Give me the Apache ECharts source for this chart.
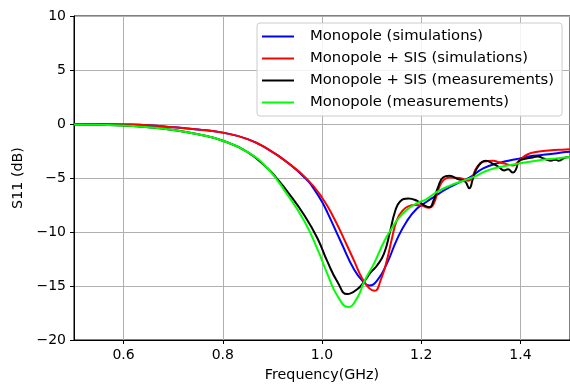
<!DOCTYPE html>
<html>
<head>
<meta charset="utf-8">
<script src="https://cdn.jsdelivr.net/npm/echarts@6/dist/echarts.min.js"></script>
<style>html,body{margin:0;padding:0;background:#fff;}#c{width:570px;height:387px;}</style>
</head>
<body>
<div id="c"></div>
<script>
const seriesNames = ['Monopole (simulations)', 'Monopole + SIS (simulations)', 'Monopole + SIS (measurements)', 'Monopole (measurements)'];
const xTicks = [0.6, 0.8, 1.0, 1.2, 1.4];
const yTicks = [-20, -15, -10, -5, 0, 5, 10];

const blueFreq = [0.5,0.55,0.6,0.65,0.7,0.75,0.8,0.85,0.89,0.93,0.97,0.985,1.0,1.011,1.038,1.065,1.085,1.095,1.111,1.131,1.151,1.171,1.191,1.211,1.231,1.251,1.275,1.298,1.325,1.357,1.391,1.425,1.457,1.491,1.5];
const blueS11 = [0,-0.01,-0.04,-0.12,-0.3,-0.5,-0.8,-1.4,-2.3,-3.55,-5.2,-6.1,-7.2,-8.2,-10.9,-13.5,-14.7,-14.95,-14.5,-12.9,-10.7,-9.0,-7.85,-7.2,-6.6,-6.0,-5.45,-4.95,-4.1,-3.6,-3.26,-2.95,-2.8,-2.6,-2.57];

const redFreq = [0.5,0.55,0.6,0.65,0.7,0.75,0.8,0.85,0.89,0.93,0.97,1.0,1.025,1.05,1.065,1.081,1.095,1.106,1.118,1.131,1.141,1.151,1.163,1.175,1.188,1.201,1.215,1.225,1.235,1.245,1.258,1.277,1.295,1.303,1.311,1.325,1.345,1.357,1.371,1.385,1.397,1.415,1.431,1.457,1.491,1.5];
const redS11 = [0,-0.01,-0.04,-0.12,-0.3,-0.5,-0.8,-1.4,-2.3,-3.55,-5.1,-6.8,-8.8,-11.2,-12.7,-14.3,-15.2,-15.45,-14.5,-12.6,-10.6,-8.9,-8.0,-7.6,-7.5,-7.55,-7.75,-7.4,-6.0,-5.2,-4.95,-5.0,-5.25,-4.9,-4.1,-3.5,-3.4,-3.55,-3.7,-3.85,-3.4,-2.8,-2.6,-2.45,-2.35,-2.33];

const blackFreq = [0.5,0.55,0.6,0.65,0.7,0.75,0.8,0.85,0.89,0.91,0.931,0.965,0.991,1.011,1.031,1.051,1.071,1.085,1.098,1.111,1.125,1.137,1.147,1.157,1.174,1.191,1.207,1.217,1.224,1.234,1.244,1.257,1.274,1.288,1.297,1.304,1.311,1.322,1.33,1.345,1.357,1.367,1.375,1.385,1.391,1.397,1.407,1.425,1.435,1.447,1.461,1.471,1.477,1.491,1.5];
const blackS11 = [-0.05,-0.08,-0.13,-0.3,-0.55,-0.95,-1.55,-2.6,-4.1,-5.1,-6.3,-8.5,-10.6,-12.75,-14.6,-15.75,-15.3,-14.6,-13.75,-13.1,-12.0,-10.0,-8.15,-7.2,-6.9,-7.1,-7.55,-7.7,-7.2,-5.85,-4.95,-4.8,-5.1,-5.3,-5.95,-5.1,-4.2,-3.55,-3.4,-3.7,-4.0,-4.3,-4.2,-4.5,-4.2,-3.45,-3.25,-3.1,-3.0,-3.2,-3.4,-3.3,-3.4,-3.1,-3.05];

const greenFreq = [0.5,0.55,0.6,0.65,0.7,0.75,0.8,0.85,0.89,0.931,0.965,0.991,1.011,1.031,1.053,1.071,1.085,1.105,1.125,1.14,1.155,1.171,1.191,1.211,1.231,1.258,1.285,1.311,1.331,1.357,1.391,1.425,1.457,1.491,1.5];
const greenS11 = [-0.05,-0.08,-0.13,-0.3,-0.55,-0.95,-1.55,-2.6,-4.1,-6.6,-9.05,-11.6,-13.9,-15.9,-16.95,-16.1,-14.6,-12.9,-10.9,-9.7,-8.7,-7.95,-7.35,-6.95,-6.3,-5.7,-5.25,-4.8,-4.35,-4.0,-3.7,-3.45,-3.25,-3.1,-3.05];

const colors = ['#0000ff', '#ff0000', '#000000', '#00ff00'];
const freqs = [blueFreq, redFreq, blackFreq, greenFreq];
const vals = [blueS11, redS11, blackS11, greenS11];

const FONT = 'DejaVu Sans';
const fmt = v => String(v).replace('-', '\u2212');

const chart = echarts.init(document.getElementById('c'), null, {renderer: 'canvas'});
chart.setOption({
  animation: false,
  backgroundColor: '#ffffff',
  grid: {left: 74, right: -4, top: 16, bottom: 46, show: true, borderColor: '#000', borderWidth: 1, backgroundColor: 'transparent'},
  legend: {
    orient: 'vertical', left: 257, top: 23,
    padding: [5, 8, 5, 5], itemGap: 5,
    itemWidth: 32, itemHeight: 2, icon: 'rect',
    backgroundColor: 'rgba(255,255,255,0.85)', borderColor: '#cccccc', borderWidth: 1, borderRadius: 3,
    textStyle: {fontFamily: FONT, fontSize: 14.8, color: '#000', padding: [0, 0, 0, 11], lineHeight: 17},
    data: seriesNames.map((n, i) => ({name: n, itemStyle: {color: colors[i]}}))
  },
  xAxis: {
    type: 'value', min: 0.5, max: 1.5,
    name: 'Frequency(GHz)', nameLocation: 'middle', nameGap: 28,
    nameTextStyle: {fontFamily: FONT, fontSize: 14.3, color: '#000'},
    axisLine: {show: true, onZero: false, lineStyle: {color: '#000', width: 1}},
    axisTick: {show: true, inside: false, length: 4, customValues: xTicks, lineStyle: {color: '#000'}},
    axisLabel: {fontFamily: FONT, fontSize: 14, color: '#000', margin: 8, customValues: xTicks, formatter: v => v.toFixed(1)},
    splitLine: {show: true, lineStyle: {color: '#b0b0b0', width: 1}}
  },
  yAxis: {
    type: 'value', min: -20, max: 10, interval: 5,
    name: 'S11 (dB)', nameLocation: 'middle', nameGap: 48, nameRotate: 90,
    nameTextStyle: {fontFamily: FONT, fontSize: 14.3, color: '#000'},
    axisLine: {show: true, lineStyle: {color: '#000', width: 1}},
    axisTick: {show: true, inside: false, length: 4, lineStyle: {color: '#000'}},
    axisLabel: {fontFamily: FONT, fontSize: 14, color: '#000', margin: 8, formatter: v => fmt(v)},
    splitLine: {show: true, lineStyle: {color: '#b0b0b0', width: 1}}
  },
  series: seriesNames.map((n, i) => ({
    name: n, type: 'line', showSymbol: false, symbol: 'none',
    smooth: 0.5, clip: true,
    lineStyle: {color: colors[i], width: 2},
    itemStyle: {color: colors[i]},
    data: freqs[i].map((f, j) => [f, vals[i][j]])
  }))
});
</script>
</body>
</html>
